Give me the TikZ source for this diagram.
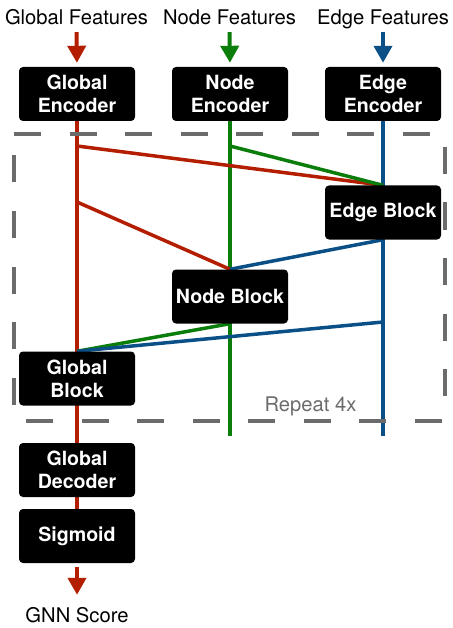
\documentclass[tikz,border=0pt]{standalone}
\usepackage{fontspec}
\setmainfont{TeX Gyre Heros}
\usetikzlibrary{arrows.meta,backgrounds}
\definecolor{cred}{HTML}{B41E00}
\definecolor{cgreen}{HTML}{0A7D0A}
\definecolor{cblue}{HTML}{0A5087}
\definecolor{cgray}{HTML}{6B6B6B}
\begin{document}
\begin{tikzpicture}[x=1pt,y=-1pt,
 box/.style={fill=black, rounded corners=4pt, minimum width=116pt, minimum height=54pt, inner sep=0pt, text=white, font=\fontsize{19.6}{23}\selectfont\bfseries, align=center},
 lbl/.style={font=\fontsize{20.2}{24}\selectfont, inner sep=0pt, text height=14pt, text depth=5pt, anchor=base},
 wire/.style={line width=3.5pt},
 arr/.style={line width=4pt, -{Triangle[length=17pt,width=18pt]}}]
\useasboundingbox (0,0) rectangle (452,628);
% labels
\node[lbl] (gf) at (76.5,25) {Global Features};
\node[lbl] (nf) at (229.5,25) {Node Features};
\node[lbl] (ef) at (383,25) {Edge Features};
\node[lbl] (gnn) at (77,622) {GNN Score};
\node[lbl, text=cgray] (rep) at (310.5,411) {Repeat 4x};
% boxes
\node[box] (genc) at (77,94) {Global\\Encoder};
\node[box] (nenc) at (230,94) {Node\\Encoder};
\node[box] (eenc) at (383,94) {Edge\\Encoder};
\node[box] (eblk) at (383,212.5) {Edge Block};
\node[box] (nblk) at (230,296.5) {Node Block};
\node[box] (gblk) at (77,378.5) {Global\\Block};
\node[box] (gdec) at (77,470) {Global\\Decoder};
\node[box] (sig) at (77,536) {Sigmoid};
% junctions
\coordinate (r1) at (77,146);
\coordinate (r2) at (77,202);
\coordinate (g1) at (230,146);
\coordinate (b1) at (383,322);
\coordinate (gend) at (230,436);
\coordinate (bend) at (383,436);
\begin{scope}[on background layer]
\draw[wire,cred] (genc.south) -- (sig.north);
\draw[wire,cgreen] (nenc.south) -- (gend);
\draw[wire,cblue] (eenc.south) -- (bend);
\draw[wire,cred] (r1) -- (eblk.north);
\draw[wire,cgreen] (g1) -- (eblk.north);
\draw[wire,cred] (r2) -- (nblk.north);
\draw[wire,cblue] (eblk.south) -- (nblk.north);
\draw[wire,cgreen] (nblk.south) -- (gblk.north);
\draw[wire,cblue] (b1) -- (gblk.north);
\draw[cgray, line width=4pt, dash pattern=on 27pt off 28.5pt] (14,134) -- (445,134) -- (445,421) -- (14,421) -- cycle;
\end{scope}
% arrows
\draw[arr,cred,shorten <=2pt,shorten >=4pt] (gf.south) -- (genc.north);
\draw[arr,cgreen,shorten <=2pt,shorten >=4pt] (nf.south) -- (nenc.north);
\draw[arr,cblue,shorten <=2pt,shorten >=4pt] (ef.south) -- (eenc.north);
\draw[arr,cred,shorten <=4pt,shorten >=13pt] (sig.south) -- (gnn.north);
\end{tikzpicture}
\end{document}
